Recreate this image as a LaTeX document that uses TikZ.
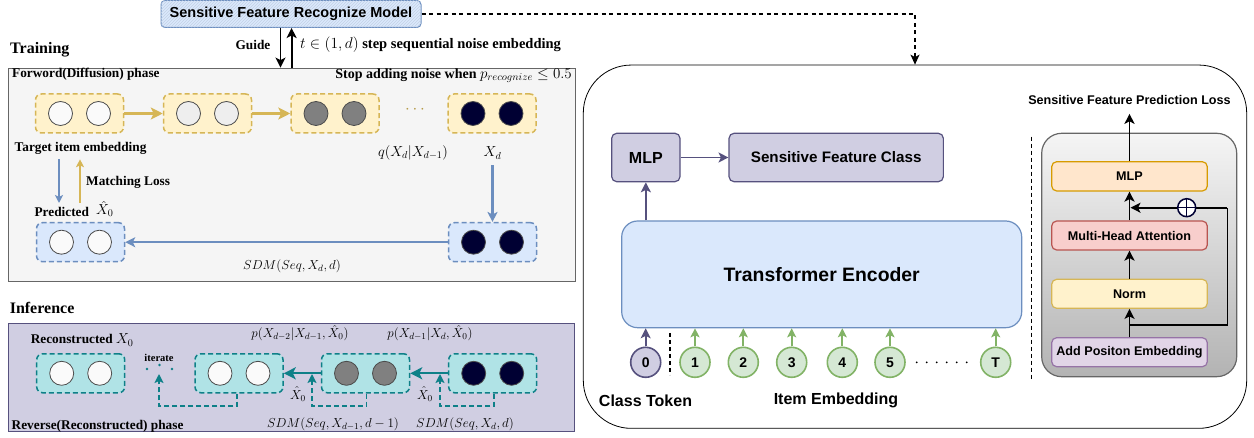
\RequirePackage{fix-cm}
\documentclass[tikz,border=0pt]{standalone}
\usepackage{fontspec}
\newfontfamily\hv{Liberation Sans}
\newfontfamily\tnr{Liberation Serif}
\usetikzlibrary{arrows.meta,patterns,calc}
\definecolor{ylwF}{HTML}{FFF2CC}
\definecolor{ylwD}{HTML}{D6B656}
\definecolor{bluF}{HTML}{DAE8FC}
\definecolor{bluD}{HTML}{6C8EBF}
\definecolor{tealF}{HTML}{B0E3E6}
\definecolor{tealD}{HTML}{0E8088}
\definecolor{purF}{HTML}{D0CEE2}
\definecolor{purD}{HTML}{56517E}
\definecolor{grnF}{HTML}{D5E8D4}
\definecolor{grnD}{HTML}{82B366}
\definecolor{orgF}{HTML}{FFE6CC}
\definecolor{orgD}{HTML}{D79B00}
\definecolor{redF}{HTML}{F8CECC}
\definecolor{redD}{HTML}{B85450}
\definecolor{vioF}{HTML}{E1D5E7}
\definecolor{vioD}{HTML}{9673A6}
\definecolor{bgG}{HTML}{F5F5F5}
\definecolor{bdG}{HTML}{666666}
\definecolor{navy}{HTML}{000033}
\definecolor{midG}{HTML}{808080}
\definecolor{ltG}{HTML}{EEEEEE}
\definecolor{whG}{HTML}{FAFAFA}
\definecolor{botG}{HTML}{B3B3B3}
\tikzset{
  dbox/.style={draw, dash pattern=on 5pt off 3pt, line width=1.5pt, rounded corners=6pt,
    minimum width=88pt, minimum height=39pt, inner sep=0pt},
  ybox/.style={dbox, fill=ylwF, draw=ylwD},
  bbox/.style={dbox, fill=bluF, draw=bluD},
  tbox/.style={dbox, fill=tealF, draw=tealD},
  ball/.style={circle, draw=black!70, line width=0.8pt, minimum size=24pt, inner sep=0pt},
  tnrb/.style={font=\tnr\bfseries\fontsize{13.3}{15}\selectfont, inner sep=0pt},
  titleb/.style={font=\tnr\bfseries\fontsize{16}{18}\selectfont, inner sep=0pt},
  mlbl/.style={font=\fontsize{13}{15}\selectfont, inner sep=0pt},
  hvb/.style={font=\hv\bfseries\fontsize{#1}{#1}\selectfont, inner sep=0pt},
  bigtip/.style={-{Stealth[length=12pt,width=12pt,inset=3pt]}},
  midtip/.style={-{Stealth[length=10pt,width=10pt,inset=2.5pt]}},
  smalltip/.style={-{Stealth[length=8pt,width=8pt,inset=2pt]}},
  yarr/.style={draw=ylwD, line width=2.5pt, bigtip},
  ysm/.style={draw=ylwD, line width=1.7pt, smalltip},
  bsm/.style={draw=bluD, line width=1.7pt, smalltip},
  barr/.style={draw=bluD, line width=2.2pt, midtip},
  tarr/.style={draw=tealD, line width=2.4pt, bigtip},
  tdash/.style={draw=tealD, line width=1.7pt, dash pattern=on 5pt off 3pt, -{Stealth[length=9pt,width=9pt,inset=2pt]}},
  karr/.style={draw=black, line width=1.9pt, midtip},
  rbox/.style={draw, line width=1.2pt, rounded corners=5pt, inner sep=0pt},
  tok/.style={circle, minimum size=30pt, inner sep=0pt, line width=1.6pt, hvb=14},
  parr/.style={draw=purD, line width=1.7pt, midtip},
  garr/.style={draw=grnD, line width=1.7pt, -{Stealth[length=9pt,width=9pt,inset=2pt]}},
}
\begin{document}
\begin{tikzpicture}[x=1pt,y=-1pt]
\useasboundingbox (0,0) rectangle (1254,438);

% ---------------- top model box
\node[draw=bluD, fill=bluF, line width=1pt, rounded corners=4pt, minimum width=260pt, minimum height=27pt,
  postaction={pattern=north east lines, pattern color=bluD!40}] (srm) at (291,14) {};
\node[hvb=14.5] (srmt) at (srm.center) {Sensitive Feature Recognize Model};

% ---------------- training panel
\node[titleb, anchor=west] (lTrain) at (10,50) {Training};
\node[draw=bdG, fill=bgG, line width=0.8pt, minimum width=566.6pt, minimum height=213.7pt, inner sep=0pt] (trbg) at (291.7,174.85) {};
\node[tnrb, anchor=west] (lFwd) at (12,74) {Forword(Diffusion) phase};
\node[tnrb, font=\tnr\bfseries\fontsize{14}{16}\selectfont, anchor=east] (lStop) at (572,76)
  {Stop adding noise when {\fontsize{15}{16}\selectfont$p_{recognize}\le 0.5$}};

\draw[karr] (280.5,0 |- srm.south) -- (280.5,0 |- trbg.north);
\draw[karr] (291.6,0 |- trbg.north) -- (291.6,0 |- srm.south);
\node[tnrb] (lGuide) at (253,45) {Guide};
\node[tnrb, font=\tnr\bfseries\fontsize{14.5}{16}\selectfont, anchor=west] (lStep) at (300,45)
  {{\fontsize{15.5}{16}\selectfont$t\in(1,d)$} step sequential noise embedding};

\foreach \n/\cx/\fc in {y1/79.5/whG, y2/207.5/ltG, y3/335/midG, y4/492/navy}{
  \node[ybox] (\n) at (\cx,113.5) {};
  \node[ball, fill=\fc] (\n-a) at ([xshift=-19pt]\n.center) {};
  \node[ball, fill=\fc] (\n-b) at ([xshift=19pt]\n.center) {};
}
\draw[yarr] (y1.east) -- (y2.west);
\draw[yarr] (y2.east) -- (y3.west);
\node[font=\fontsize{17}{17}\selectfont, inner sep=0pt, text=ylwD!85!black] (ydots) at (415,110) {$\cdots$};

\node[tnrb, anchor=west] (lTarget) at (14.5,148) {Target item embedding};
\node[mlbl, font=\fontsize{14.5}{16}\selectfont] (lq) at (413,153) {$q(X_d|X_{d-1})$};
\node[mlbl, font=\fontsize{14.5}{16}\selectfont] (lXd) at (492.5,153) {$X_d$};
\node[tnrb, anchor=west] (lMatch) at (86,182.7) {Matching Loss};
\node[tnrb, anchor=west] (lPred) at (34.4,211.7) {Predicted};
\node[mlbl, font=\fontsize{14.5}{16}\selectfont, anchor=west] (lPredX) at (96,209) {$\hat{X}_0$};

\foreach \n/\cx in {b1/80.5, b2/492.5}{
  \node[bbox] (\n) at (\cx,242.2) {};
}
\node[ball, fill=whG] (b1-a) at ([xshift=-19pt]b1.center) {};
\node[ball, fill=whG] (b1-b) at ([xshift=19pt]b1.center) {};
\node[ball, fill=navy] (b2-a) at ([xshift=-19pt]b2.center) {};
\node[ball, fill=navy] (b2-b) at ([xshift=19pt]b2.center) {};

\draw[barr] ([yshift=-6pt]lXd.south) -- (b2.north);
\draw[barr] (b2.west) -- (b1.east);
\draw[bsm] ([yshift=-5pt]59,0 |- lTarget.south) -- (59,203);
\draw[ysm] (80,203) -- ([yshift=-5pt]80,0 |- lTarget.south);
\node[mlbl] (lSDM) at (292,266.7) {$SDM(Seq,X_d,d)$};

% ---------------- inference panel
\node[titleb, anchor=west] (lInf) at (9.6,308) {Inference};
\node[draw=purD, fill=purF, line width=0.8pt, minimum width=565.6pt, minimum height=108.4pt, inner sep=0pt] (infbg) at (291.2,377.5) {};
\node[tnrb, anchor=west] (lRec) at (30.6,340) {Reconstructed {\fontsize{14.5}{16}\selectfont$X_0$}};
\node[tnrb, font=\tnr\bfseries\fontsize{10.5}{12}\selectfont] (lIter) at (159,358.3) {iterate};

\foreach \n/\cx/\fc in {tA/80.7/whG, tB/239/whG, tC/365.5/midG, tD/492.7/navy}{
  \node[tbox] (\n) at (\cx,373.3) {};
  \node[ball, fill=\fc] (\n-a) at ([xshift=-19pt]\n.center) {};
  \node[ball, fill=\fc] (\n-b) at ([xshift=19pt]\n.center) {};
}
\draw[tarr] (tC.west) -- (tB.east);
\draw[tarr] (tD.west) -- (tC.east);
\draw[tdash] (237,0 |- tB.south) -- (237,406) -- (159,406) -- (159,374);
\draw[tdash] (366.5,0 |- tC.south) -- (366.5,406) -- (312,406) -- (312,374);
\draw[tdash] (493.7,0 |- tD.south) -- (493.7,406) -- (440,406) -- (440,374);
\foreach \xx in {147,172}{\fill[tealD] (\xx,369) circle (1.4pt);}
\fill[tealD] (159.5,365) circle (1.4pt);

\node[mlbl] (lp2) at (300,333) {$p(X_{d-2}|X_{d-1},\hat{X}_0)$};
\node[mlbl] (lp1) at (430,333) {$p(X_{d-1}|X_d,\hat{X}_0)$};
\node[mlbl] (lh1) at (298,394) {$\hat{X}_0$};
\node[mlbl] (lh2) at (425,394) {$\hat{X}_0$};
\node[mlbl] (ls1) at (333,424) {$SDM(Seq,X_{d-1},d-1)$};
\node[mlbl] (ls2) at (465,424) {$SDM(Seq,X_d,d)$};
\node[tnrb, anchor=west] (lRev) at (11.5,426.7) {Reverse(Reconstructed) phase};

% ---------------- right big box
\node[draw, line width=0.8pt, fill=white, rounded corners=48pt, minimum width=663.4pt, minimum height=363.3pt, inner sep=0pt] (big) at (915,246.7) {};
\draw[line width=1.4pt, dash pattern=on 4pt off 3.5pt, -{Stealth[length=10pt,width=9pt,inset=2.5pt]}]
  (srm.east) -- (big.north |- srm.east) -- (big.north);

\node[rbox, draw=purD, fill=purF, minimum width=68.3pt, minimum height=48.4pt, hvb=16] (mlp) at (645.85,157.5) {MLP};
\node[rbox, draw=purD, fill=purF, minimum width=214.3pt, minimum height=48.4pt, hvb=15.2] (sfc) at (836.2,157.5) {Sensitive Feature Class};
\node[rbox, draw=bluD, fill=bluF, rounded corners=16pt, minimum width=400pt, minimum height=106.7pt, hvb=19.4] (te) at (821.7,274.35) {Transformer Encoder};
\draw[parr] (mlp.east) -- (sfc.west);
\draw[parr] (mlp.south |- te.north) -- (mlp.south);

\node[tok, draw=purD, fill=purF] (k0) at (645.7,362.3) {0};
\foreach \n/\cx/\lab in {k1/695/1, k2/743.3/2, k3/791.7/3, k4/842.3/4, k5/890/5, kT/995.7/T}{
  \node[tok, draw=grnD, fill=grnF] (\n) at (\cx,362.3) {\lab};
  \draw[garr] (\n.north) -- (\n.north |- te.south);
}
\draw[parr] (k0.north) -- (k0.north |- te.south);
\coordinate (sepT) at (670,333);
\coordinate (sepB) at (670,375);
\draw[line width=1.4pt, dash pattern=on 4pt off 3pt] (sepT) -- (sepB);
\foreach \xx in {0,...,5}{\fill (916.7+\xx*10,362.3) circle (1pt);}
\node[hvb=16] (lCls) at (645.5,400.7) {Class Token};
\node[hvb=16] (lItem) at (836,400.7) {Item Embedding};

% ---------------- encoder detail
\coordinate (vsT) at (1031.7,136.7);
\coordinate (vsB) at (1031.7,380);
\draw[line width=1.4pt, dash pattern=on 4pt off 3pt] (vsT) -- (vsB);
\node[draw=bdG, line width=1.2pt, top color=bgG, bottom color=botG, rounded corners=20pt,
  minimum width=195pt, minimum height=243.4pt, inner sep=0pt] (inner) at (1139.2,255) {};
\node[hvb=12.6] (lLoss) at (1129.5,100) {Sensitive Feature Prediction Loss};
\node[rbox, draw=orgD, fill=orgF, minimum width=155.6pt, minimum height=29.3pt, hvb=12.6] (mlp2) at (1129.5,176.35) {MLP};
\node[rbox, draw=redD, fill=redF, minimum width=155.6pt, minimum height=29pt, hvb=12.6] (mha) at (1129.5,235.5) {Multi-Head Attention};
\node[rbox, draw=ylwD, fill=ylwF, minimum width=155.6pt, minimum height=29pt, hvb=12.6] (norm) at (1129.5,293.8) {Norm};
\node[rbox, draw=vioD, fill=vioF, minimum width=155.6pt, minimum height=29pt, hvb=12.6] (ape) at (1129.5,352.2) {Add Positon Embedding};
\draw[karr] (ape.north) -- (norm.south);
\draw[karr] (norm.north) -- (mha.south);
\draw[karr] (mha.north) -- (mlp2.south);
\draw[karr] (mlp2.north) -- ([yshift=-9pt]lLoss.south);
\coordinate (br) at (1129.5,325);
\coordinate (rr) at (1227.3,325);
\coordinate (rt) at (1227.3,207.7);
\coordinate (mj) at (1130.5,207.7);
\draw[line width=1.6pt] (br) -- (rr) -- (rt);
\draw[karr] (rt) -- (mj);
\node[circle, draw=navy, fill=white, line width=1.5pt, minimum size=18pt, inner sep=0pt] (oplus) at (1186.7,207.7) {};
\draw[navy, line width=1.5pt] (oplus.north) -- (oplus.south) (oplus.west) -- (oplus.east);
\end{tikzpicture}
\end{document}
